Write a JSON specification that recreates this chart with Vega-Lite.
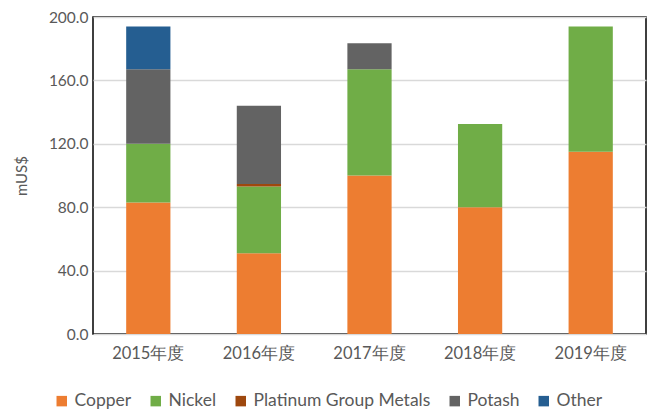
{
  "$schema": "https://vega.github.io/schema/vega-lite/v6.json",
  "width": 553,
  "height": 317,
  "autosize": {"type": "none"},
  "padding": {"left": 93, "top": 17, "right": 8, "bottom": 80},
  "background": "white",
  "config": {
    "font": "Lato",
    "view": {"stroke": "#000000", "strokeWidth": 1.5},
    "axis": {"labelColor": "#595959", "titleColor": "#595959", "labelFont": "Lato", "titleFont": "Lato"}
  },
  "data": {
    "values": [
      {"year": "2015年度", "metal": "Copper", "value": 83},
      {"year": "2015年度", "metal": "Nickel", "value": 37},
      {"year": "2015年度", "metal": "Potash", "value": 47},
      {"year": "2015年度", "metal": "Other", "value": 27},
      {"year": "2016年度", "metal": "Copper", "value": 51},
      {"year": "2016年度", "metal": "Nickel", "value": 42},
      {"year": "2016年度", "metal": "Platinum Group Metals", "value": 1.7},
      {"year": "2016年度", "metal": "Potash", "value": 49.3},
      {"year": "2017年度", "metal": "Copper", "value": 100},
      {"year": "2017年度", "metal": "Nickel", "value": 67},
      {"year": "2017年度", "metal": "Potash", "value": 16.5},
      {"year": "2018年度", "metal": "Copper", "value": 80},
      {"year": "2018年度", "metal": "Nickel", "value": 52.5},
      {"year": "2019年度", "metal": "Copper", "value": 115},
      {"year": "2019年度", "metal": "Nickel", "value": 79}
    ]
  },
  "transform": [
    {"calculate": "indexof(['Copper','Nickel','Platinum Group Metals','Potash','Other'], datum.metal)", "as": "stackOrder"}
  ],
  "mark": {"type": "bar"},
  "encoding": {
    "x": {
      "field": "year", "type": "nominal", "sort": null,
      "scale": {"paddingInner": 0.6, "paddingOuter": 0.3},
      "axis": {"title": null, "labelAngle": 0, "labelFontSize": 16.5, "labelPadding": 11, "ticks": false, "domain": false, "labelFont": "Lato"}
    },
    "y": {
      "field": "value", "type": "quantitative", "stack": "zero",
      "scale": {"domain": [0, 200], "nice": false},
      "axis": {"title": "mUS$", "titleFontSize": 15, "titleFontWeight": "normal", "titlePadding": 19, "format": ".1f", "values": [0, 40, 80, 120, 160, 200], "labelOverlap": false, "labelFontSize": 15.5, "labelPadding": 5, "ticks": false, "domain": false, "gridColor": "#d9d9d9", "gridWidth": 1.3}
    },
    "color": {
      "field": "metal", "type": "nominal",
      "scale": {
        "domain": ["Copper", "Nickel", "Platinum Group Metals", "Potash", "Other"],
        "range": ["#ED7D31", "#70AD47", "#9E480E", "#636363", "#255E91"]
      },
      "legend": {
        "title": null, "orient": "none", "direction": "horizontal",
        "legendX": -40, "legendY": 375,
        "symbolType": "square", "symbolSize": 110, "symbolStrokeWidth": 0,
        "labelFontSize": 17.5, "labelColor": "#595959", "labelFont": "Lato", "labelLimit": 400,
        "columnPadding": 15, "labelOffset": 4
      }
    },
    "order": {"field": "stackOrder", "type": "quantitative", "sort": "ascending"}
  }
}
